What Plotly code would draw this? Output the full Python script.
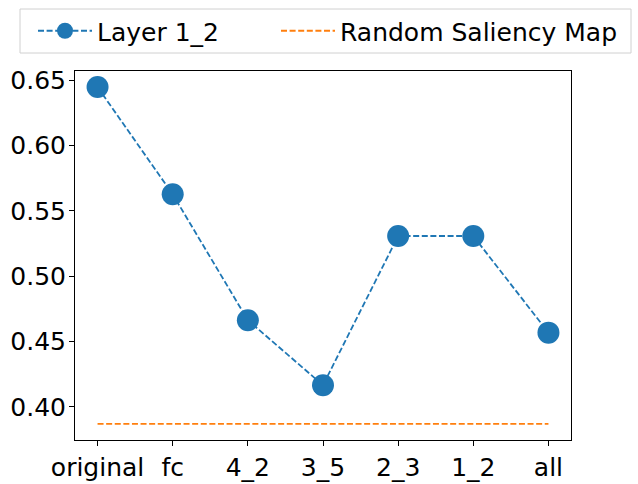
import plotly.graph_objects as go

categorias = ['original', 'fc', '4_2', '3_5', '2_3', '1_2', 'all']
layer_1_2 = [0.6446, 0.5626, 0.4663, 0.4166, 0.5307, 0.5307, 0.4568]
random_saliency = [0.3870] * len(categorias)

x_pos = list(range(len(categorias)))

# área do gráfico em pixels (para posicionar a legenda)
ML, MT, PW, PH = 75, 71, 496, 369


def px_x(p):
    return (p - ML) / PW


def px_y(p):
    return 1 + (MT - p) / PH


tracejado = '6px,2.6px'

fig = go.Figure()

fig.add_trace(go.Scatter(
    x=x_pos, y=layer_1_2,
    mode='lines+markers', name='Layer 1_2', legend='legend',
    line=dict(color='#1f77b4', width=1.8, dash=tracejado),
    marker=dict(symbol='circle', size=22, color='#1f77b4')
))

fig.add_trace(go.Scatter(
    x=x_pos, y=random_saliency,
    mode='lines', name='Random Saliency Map', legend='legend2',
    line=dict(color='#ff7f0e', width=1.8, dash=tracejado)
))

# moldura da legenda (estilo matplotlib)
fig.add_shape(type='rect', xref='paper', yref='paper',
              x0=px_x(20), x1=px_x(631), y0=px_y(53), y1=px_y(9),
              line=dict(color='#d0d0d0', width=1), fillcolor='white', layer='below')

leg_comum = dict(orientation='h', xanchor='left', yanchor='middle',
                 bgcolor='rgba(0,0,0,0)', borderwidth=0,
                 font=dict(size=25), itemwidth=54)

fig.update_layout(
    width=638, height=484,
    margin=dict(l=ML, r=638 - ML - PW, t=MT, b=484 - MT - PH, autoexpand=False),
    paper_bgcolor='white', plot_bgcolor='white',
    font=dict(family='DejaVu Sans', size=25, color='black'),
    showlegend=True,
    legend=dict(x=px_x(33), y=px_y(31), **leg_comum),
    legend2=dict(x=px_x(276), y=px_y(31), **leg_comum),
    xaxis=dict(
        range=[-0.3, 6.3], tickmode='array', tickvals=x_pos, ticktext=categorias,
        showgrid=False, zeroline=False, showline=True, linecolor='black', linewidth=1,
        mirror=True, ticks='outside', ticklen=5, tickcolor='black', automargin=False,
    ),
    yaxis=dict(
        range=[0.3747, 0.6569], tickmode='array',
        tickvals=[0.40, 0.45, 0.50, 0.55, 0.60, 0.65],
        ticktext=['0.40', '0.45', '0.50', '0.55', '0.60', '0.65'],
        showgrid=False, zeroline=False, showline=True, linecolor='black', linewidth=1,
        mirror=True, ticks='outside', ticklen=5, tickcolor='black', automargin=False,
        ticklabelstandoff=-2,
    ),
)

fig.write_html("out.html", config={'displayModeBar': False},
               post_script="document.body.style.margin='0';")
